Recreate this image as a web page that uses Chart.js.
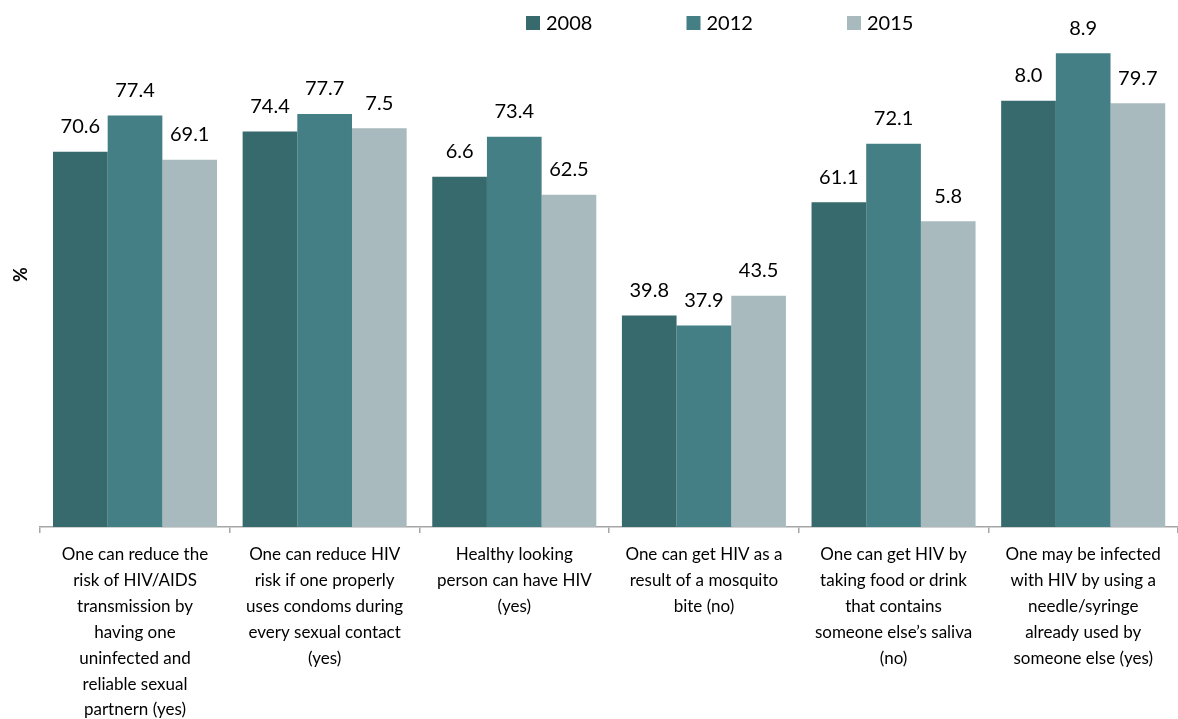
<!DOCTYPE html>
<html>
<head>
<meta charset="utf-8">
<script src="https://cdn.jsdelivr.net/npm/chart.js@4.4.1/dist/chart.umd.min.js"></script>
<style>
  html, body { margin: 0; padding: 0; background: #fff; }
  #wrap { width: 1178px; height: 719px; position: relative; }
</style>
</head>
<body>
<div id="wrap"><canvas id="barChart"></canvas></div>
<script>
const categories = [
  ["One can reduce the", "risk of HIV/AIDS", "transmission by", "having one", "uninfected and", "reliable sexual", "partnern (yes)"],
  ["One can reduce HIV", "risk if one properly", "uses condoms during", "every sexual contact", "(yes)"],
  ["Healthy looking", "person can have HIV", "(yes)"],
  ["One can get HIV as a", "result of a mosquito", "bite (no)"],
  ["One can get HIV by", "taking food or drink", "that contains", "someone else\u2019s saliva", "(no)"],
  ["One may be infected", "with HIV by using a", "needle/syringe", "already used by", "someone else (yes)"]
];
const years = ["2008", "2012", "2015"];

// bar heights
const values2008 = [70.6, 74.4, 65.9, 39.8, 61.1, 80.2];
const values2012 = [77.4, 77.7, 73.4, 37.9, 72.1, 89.1];
const values2015 = [69.1, 75.0, 62.5, 43.5, 57.5, 79.7];

// labels exactly as printed over the bars
const labels2008 = ["70.6", "74.4", "6.6", "39.8", "61.1", "8.0"];
const labels2012 = ["77.4", "77.7", "73.4", "37.9", "72.1", "8.9"];
const labels2015 = ["69.1", "7.5", "62.5", "43.5", "5.8", "79.7"];

const colors = ["#376a6c", "#447f85", "#a8babd"];
const FONT = "Lato, 'Open Sans', sans-serif";

const valueLabels = {
  id: "valueLabels",
  afterDatasetsDraw(chart) {
    const ctx = chart.ctx;
    ctx.save();
    ctx.font = "20px " + FONT;
    ctx.fillStyle = "#000";
    ctx.textAlign = "center";
    ctx.textBaseline = "middle";
    chart.data.datasets.forEach((ds, i) => {
      chart.getDatasetMeta(i).data.forEach((bar, j) => {
        ctx.fillText(ds.valueText[j], bar.x, bar.y - 25);
      });
    });
    ctx.restore();
  }
};

const topLegend = {
  id: "topLegend",
  afterDraw(chart) {
    const ctx = chart.ctx;
    ctx.save();
    ctx.font = "20px " + FONT;
    ctx.textBaseline = "middle";
    ctx.textAlign = "left";
    chart.data.datasets.forEach((ds, i) => {
      const x = 526 + i * 160.5;
      ctx.fillStyle = ds.backgroundColor;
      ctx.fillRect(x, 16, 14, 14);
      ctx.fillStyle = "#000";
      ctx.fillText(ds.label, x + 20, 23.5);
    });
    ctx.restore();
  }
};

window.addEventListener("DOMContentLoaded", () => {
  const ctx = document.getElementById("barChart").getContext("2d");

  new Chart(ctx, {
    type: "bar",
    data: {
      labels: categories,
      datasets: [
        { label: years[0], data: values2008, valueText: labels2008, backgroundColor: colors[0] },
        { label: years[1], data: values2012, valueText: labels2012, backgroundColor: colors[1] },
        { label: years[2], data: values2015, valueText: labels2015, backgroundColor: colors[2] }
      ]
    },
    options: {
      responsive: true,
      maintainAspectRatio: false,
      animation: false,
      datasets: {
        bar: {
          categoryPercentage: 0.865,
          barPercentage: 1.0,
          borderWidth: 0
        }
      },
      layout: {
        padding: { left: 10.6, right: 0, top: 22, bottom: 0 }
      },
      plugins: {
        legend: { display: false },
        tooltip: { enabled: false }
      },
      scales: {
        x: {
          afterFit(scale) {
            scale.height = 192; // room for the 7-line label
          },
          grid: {
            display: true,
            drawOnChartArea: false,
            drawTicks: true,
            tickLength: 6,
            color: "#a6a6a6",
            lineWidth: 1.5
          },
          border: { color: "#a6a6a6", width: 1.5 },
          ticks: {
            color: "#000",
            padding: 9,
            maxRotation: 0,
            autoSkip: false,
            font: { family: FONT, size: 17, lineHeight: 1.52 }
          }
        },
        y: {
          min: 0,
          max: 95,
          grid: { display: false, drawTicks: false },
          border: { display: false },
          ticks: { display: false },
          title: {
            display: true,
            text: "%",
            color: "#000",
            padding: { top: 0, bottom: 8 },
            font: { family: FONT, size: 18, weight: "bold", lineHeight: 1.2 }
          }
        }
      }
    },
    plugins: [valueLabels, topLegend]
  });
});
</script>
</body>
</html>
